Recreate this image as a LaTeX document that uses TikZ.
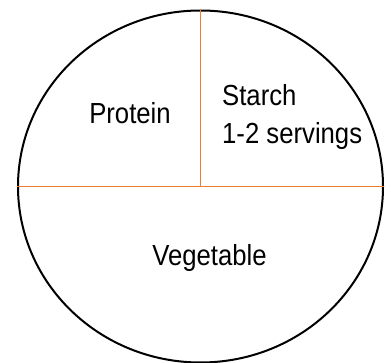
\documentclass[tikz,border=0pt]{standalone}
\usepackage{fontspec}
\setmainfont{Liberation Sans}
\usepackage{xcolor}
\usepackage{tikz}
\usetikzlibrary{shapes, positioning}
\definecolor{DivideOrange}{HTML}{ed7d31}
\newcommand{\tallword}[1]{\scalebox{1}[1.13]{#1}}

\begin{document}
\begin{tikzpicture}[
  x=1pt, y=1pt,
  platebox/.style={draw=black, ellipse, line width=2pt, minimum width=365pt, minimum height=352pt, inner sep=0pt},
  divider/.style={draw=DivideOrange, line width=1.3pt},
  foodlabel/.style={inner sep=0pt, font=\fontsize{25.7}{30}\selectfont}
  ]
  \useasboundingbox (0,0) rectangle (391,362);
  % Plate
  \node[platebox] (plate) at (200.5,175.5) {};
  % Dividers
  \draw[divider] (plate.west) -- (plate.east);
  \draw[divider] (plate.north) -- (plate.center);
  % Labels
  \node[foodlabel, anchor=base] (protein) at (130,238) {\tallword{Protein}};
  \node[foodlabel, anchor=base west] (starch) at (222,256) {\tallword{Starch}};
  \node[foodlabel, anchor=base west] (servings) at (222,218) {\tallword{1-2 servings}};
  \node[foodlabel, anchor=base] (vegetable) at (209.5,97) {\tallword{Vegetable}};
\end{tikzpicture}
\end{document}
